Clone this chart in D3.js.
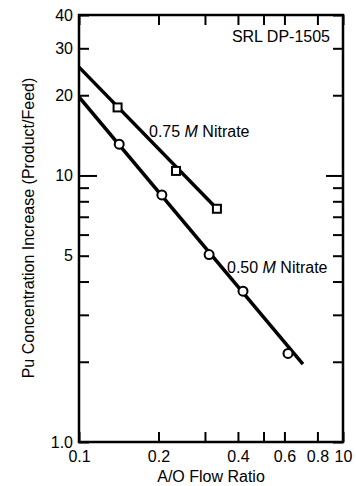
<!DOCTYPE html>
<html>
<head>
<meta charset="utf-8">
<script src="https://cdn.jsdelivr.net/npm/d3@7"></script>
<style>
  body { margin: 0; background: #fff; }
  text { font-family: "Liberation Sans", Arial, Helvetica, sans-serif; fill: #000; }
</style>
</head>
<body>
<div id="chart"></div>
<script>
  "use strict";

  var ratio075 = [0.14, 0.233, 0.333];
  var pu075 = [18.0, 10.4, 7.5];
  var ratio050 = [0.142, 0.206, 0.311, 0.418, 0.619];
  var pu050 = [13.1, 8.45, 5.05, 3.68, 2.15];

  // fitted lines (end points)
  var fitRatio075 = [0.1, 0.333];
  var fitPu075 = [25.5, 7.5];
  var fitRatio050 = [0.1, 0.705];
  var fitPu050 = [19.7, 1.96];

  var xTicks = [0.1, 0.2, 0.3, 0.4, 0.5, 0.6, 0.8, 1.0];
  var xLabels = { 0.1: "0.1", 0.2: "0.2", 0.4: "0.4", 0.6: "0.6", 0.8: "0.8", 1: "10" };
  var yTicks = [1, 2, 3, 4, 5, 6, 7, 8, 9, 10, 20, 30, 40];
  var yLabels = { 1: "1.0", 5: "5", 10: "10", 20: "20", 30: "30", 40: "40" };

  var width = 356, height = 486;
  var margin = { top: 15, right: 13, bottom: 44, left: 79 };
  var w = width - margin.left - margin.right;
  var h = height - margin.top - margin.bottom;
  var fs = 16;

  var svg = d3.select("#chart").append("svg")
      .attr("width", width)
      .attr("height", height);

  var g = svg.append("g")
      .attr("transform", "translate(" + margin.left + "," + margin.top + ")");

  var x = d3.scaleLog().domain([0.1, 1.0]).range([0, w]);
  var y = d3.scaleLog().domain([1, 40]).range([h, 0]);

  function fmt(labels) {
    return function (d) { return labels[+d.toPrecision(3)] || ""; };
  }

  function styleAxis(sel) {
    sel.select(".domain").remove();
    sel.selectAll(".tick line").attr("stroke", "#000").attr("stroke-width", 2);
    sel.selectAll("text").attr("font-size", fs).attr("fill", "#000");
    sel.attr("font-family", null);
  }

  // bottom / top
  g.append("g")
      .attr("transform", "translate(0," + h + ")")
      .call(d3.axisBottom(x).tickValues(xTicks).tickSize(-10).tickPadding(9).tickFormat(fmt(xLabels)))
      .call(styleAxis);
  g.append("g")
      .call(d3.axisTop(x).tickValues(xTicks).tickSize(-10).tickFormat(""))
      .call(styleAxis);

  // left / right
  var yl = g.append("g")
      .call(d3.axisLeft(y).tickValues(yTicks).tickSize(-10).tickPadding(6).tickFormat(fmt(yLabels)))
      .call(styleAxis);
  var yr = g.append("g")
      .attr("transform", "translate(" + w + ",0)")
      .call(d3.axisRight(y).tickValues(yTicks).tickSize(-10).tickFormat(""))
      .call(styleAxis);

  // the decade tick is longer
  yl.selectAll(".tick").filter(function (d) { return d === 10; }).select("line").attr("x2", 18);
  yr.selectAll(".tick").filter(function (d) { return d === 10; }).select("line").attr("x2", -17);

  // frame
  g.append("rect")
      .attr("width", w)
      .attr("height", h)
      .attr("fill", "none")
      .attr("stroke", "#000")
      .attr("stroke-width", 2.5);

  g.append("clipPath").attr("id", "clip")
    .append("rect").attr("width", w).attr("height", h);

  var line = d3.line()
      .x(function (d) { return x(d[0]); })
      .y(function (d) { return y(d[1]); });

  var plot = g.append("g").attr("clip-path", "url(#clip)");

  plot.append("path")
      .datum(d3.zip(fitRatio075, fitPu075))
      .attr("d", line)
      .attr("fill", "none")
      .attr("stroke", "#000")
      .attr("stroke-width", 3.5);

  plot.append("path")
      .datum(d3.zip(fitRatio050, fitPu050))
      .attr("d", line)
      .attr("fill", "none")
      .attr("stroke", "#000")
      .attr("stroke-width", 3.5);

  var s = 8;
  g.selectAll(".sq")
      .data(d3.zip(ratio075, pu075))
      .enter().append("rect")
      .attr("class", "sq")
      .attr("x", function (d) { return x(d[0]) - s / 2; })
      .attr("y", function (d) { return y(d[1]) - s / 2; })
      .attr("width", s)
      .attr("height", s)
      .attr("fill", "#fff")
      .attr("stroke", "#000")
      .attr("stroke-width", 2);

  g.selectAll(".ci")
      .data(d3.zip(ratio050, pu050))
      .enter().append("circle")
      .attr("class", "ci")
      .attr("cx", function (d) { return x(d[0]); })
      .attr("cy", function (d) { return y(d[1]); })
      .attr("r", 4.5)
      .attr("fill", "#fff")
      .attr("stroke", "#000")
      .attr("stroke-width", 2);

  // annotations
  svg.append("text")
      .attr("x", 330).attr("y", 42)
      .attr("text-anchor", "end")
      .attr("font-size", fs)
      .text("SRL DP-1505");

  function nitrate(tx, ty, conc) {
    var t = svg.append("text").attr("x", tx).attr("y", ty).attr("font-size", fs);
    t.append("tspan").text(conc + " ");
    t.append("tspan").attr("font-style", "italic").text("M");
    t.append("tspan").text(" Nitrate");
  }
  nitrate(149, 137, "0.75");
  nitrate(227, 273, "0.50");

  // axis titles
  svg.append("text")
      .attr("x", margin.left + w / 2)
      .attr("y", 482)
      .attr("text-anchor", "middle")
      .attr("font-size", fs)
      .text("A/O Flow Ratio");

  svg.append("text")
      .attr("transform", "translate(34," + 228 + ") rotate(-90)")
      .attr("text-anchor", "middle")
      .attr("font-size", fs)
      .text("Pu Concentration Increase (Product/Feed)");
</script>
</body>
</html>
